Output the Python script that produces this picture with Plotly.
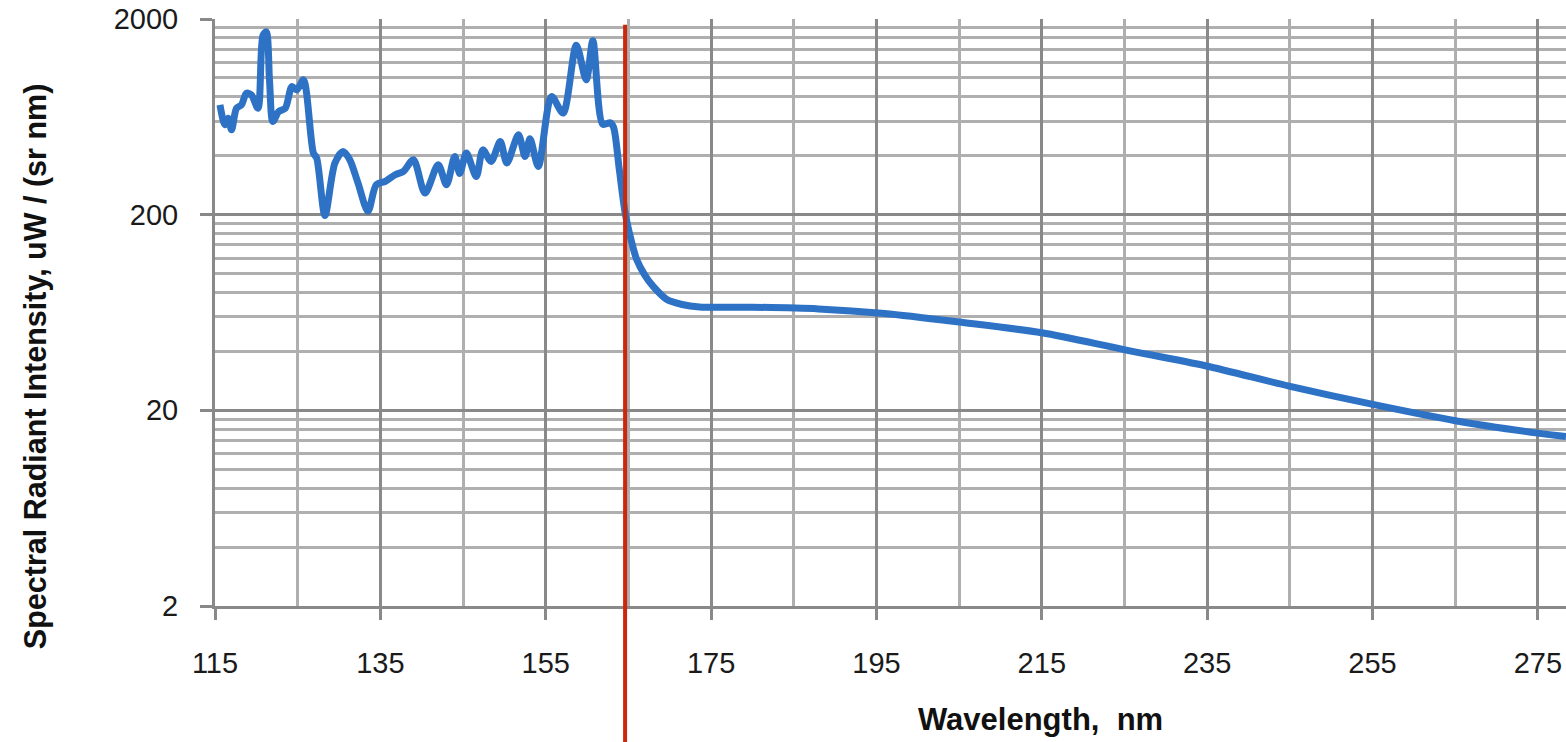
import math
import plotly.graph_objects as go

# ---- data ----
wavelength_nm = [
    115.6, 116.2, 116.6, 117.0, 117.6, 118.2, 118.8, 119.4, 120.2, 120.8, 121.2, 121.6,
    122.0, 122.7, 123.5, 124.3, 124.9, 125.7, 126.9, 127.3, 128.3, 129.5, 130.5, 131.3,
    132.3, 133.5, 134.5, 135.6, 136.8, 137.8, 139.0, 140.4, 142.0, 143.0, 144.0, 144.6,
    145.4, 146.6, 147.4, 148.4, 149.5, 150.3, 151.7, 152.5, 153.1, 154.1, 155.7, 157.1,
    158.7, 159.9, 160.7, 161.9, 162.8, 163.2, 163.9, 164.6, 165.3, 166.0, 167.0, 168.0,
    169.6, 171.5, 173.6, 180.0, 188.0, 196.0, 205.0, 215.0, 224.8, 234.9, 244.9,
    254.9, 265.0, 275.0, 278.4,
]
intensity_uw_sr_nm = [
    728, 576, 622, 543, 700, 728, 836, 819, 700, 1650, 1720, 958,
    598, 673, 700, 903, 869, 977, 413, 389, 198, 367, 421, 382,
    290, 208, 284, 296, 320, 333, 382, 258, 360, 284, 397, 325,
    413, 313, 429, 374, 473, 367, 512, 397, 488, 353, 803, 661,
    1470, 977, 1550, 580, 590, 560, 340, 205, 150, 118, 98, 86,
    74, 69.5, 67.5, 67.3, 66, 62.5, 56.5, 49.8, 41, 33.7, 26.6,
    21.5, 17.7, 15.3, 14.7,
]

x_tick_vals = [115, 135, 155, 175, 195, 215, 235, 255, 275]
x_minor_vals = [125, 145, 165, 185, 205, 225, 245, 265]
y_tick_vals = [2, 20, 200, 2000]
y_tick_text = ["2", "20", "200", "2000"]
y_minor_vals = [m * 10 ** k for k in (0, 1, 2) for m in (4, 6, 8, 10, 12, 14, 16, 18)]
x_range = [115, 278.4]
y_range = [2, 2000]
cutoff_nm = 164.6

x_title = "Wavelength,\u00a0 nm"
y_title = "Spectral Radiant Intensity, uW / (sr nm)"

MAJOR = "#898989"
MINOR = "#afafaf"
FONT = "Liberation Sans, Arial, Helvetica, sans-serif"

fig = go.Figure()
fig.add_trace(go.Scatter(
    x=wavelength_nm, y=intensity_uw_sr_nm, mode="lines",
    line=dict(color="#2e72c5", width=7, shape="spline", smoothing=0.8),
    hoverinfo="skip", showlegend=False,
))

fig.update_layout(
    width=1566, height=742,
    margin=dict(l=215, r=0, t=19, b=136),
    paper_bgcolor="white", plot_bgcolor="white",
    font=dict(family=FONT, size=29, color="#1a1a1a"),
    showlegend=False,
)

fig.update_xaxes(
    range=x_range, tickmode="array", tickvals=x_tick_vals,
    ticks="outside", ticklen=11, tickwidth=3, tickcolor=MAJOR,
    showgrid=True, gridcolor=MAJOR, gridwidth=3,
    showline=True, linecolor=MAJOR, linewidth=3, zeroline=False,
    ticklabelstandoff=18,
    minor=dict(tickmode="array", tickvals=x_minor_vals, showgrid=True,
               gridcolor=MINOR, gridwidth=3, ticklen=0),
)
fig.update_yaxes(
    type="log", range=[math.log10(y_range[0]), math.log10(y_range[1])],
    tickmode="array", tickvals=y_tick_vals, ticktext=y_tick_text,
    ticks="outside", ticklen=12, tickwidth=3, tickcolor=MAJOR,
    showgrid=True, gridcolor=MAJOR, gridwidth=3,
    showline=True, linecolor=MAJOR, linewidth=3, zeroline=False,
    ticklabelstandoff=16,
    minor=dict(tickmode="array", tickvals=y_minor_vals, showgrid=True,
               gridcolor=MINOR, gridwidth=3, ticklen=0),
)

fig.add_shape(type="line", xref="x", yref="paper",
              x0=cutoff_nm, x1=cutoff_nm, y0=-0.232, y1=0.99,
              line=dict(color="#c9280a", width=4), layer="above")

fig.add_annotation(text=x_title, xref="paper", yref="paper",
                   x=0.6107, y=-0.194, xanchor="center", yanchor="middle",
                   showarrow=False, font=dict(family=FONT, size=31, weight="bold", color="#111"))
fig.add_annotation(text=y_title, xref="paper", yref="paper",
                   x=-0.1332, y=0.407, xanchor="center", yanchor="middle",
                   textangle=-90, showarrow=False,
                   font=dict(family=FONT, size=30.5, weight="bold", color="#111"))

fig.write_html("out.html")
